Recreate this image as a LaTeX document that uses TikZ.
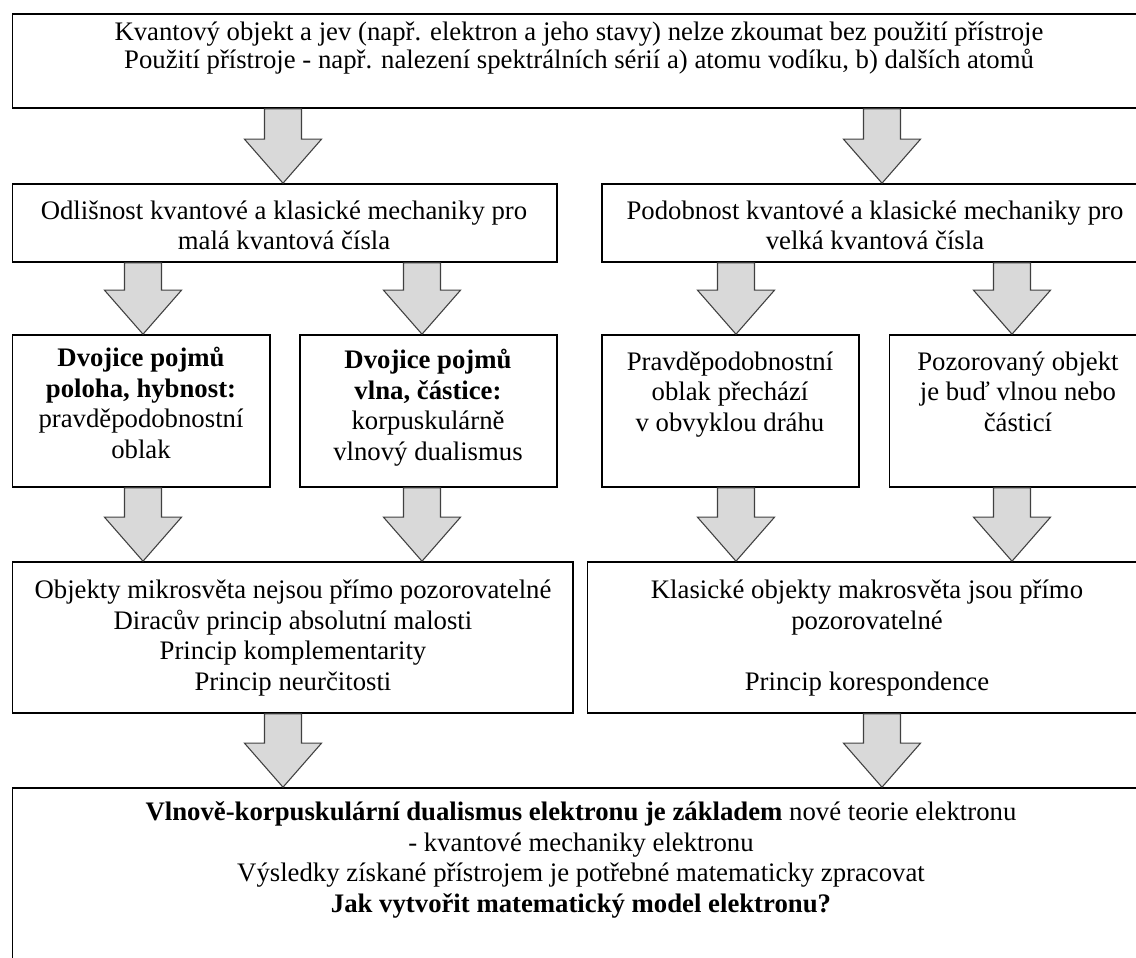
\documentclass[tikz,border=0pt]{standalone}
\usepackage{fontspec}
\setmainfont{Liberation Serif}
\usetikzlibrary{calc,fit}

\newcommand{\blokarrow}[3]{%
  \path (#1,0 |- #2.south) coordinate (bs) (#1,0 |- #3.north) coordinate (bt);
  \draw[barrow] ($(bs)+(-18.5,0)$) -- ($(bt)+(-18.5,-44)$) -- ($(bt)+(-38.5,-44)$) -- (bt)
    -- ($(bt)+(38.5,-44)$) -- ($(bt)+(18.5,-44)$) -- ($(bs)+(18.5,0)$) -- cycle;}

\begin{document}
\begin{tikzpicture}[x=0.46pt, y=-0.46pt,
  box/.style={draw=black, line width=0.75pt, inner sep=0pt},
  txt/.style={align=center, inner sep=0pt, anchor=base, font=\fontsize{12.3}{14}\selectfont},
  barrow/.style={draw=black!75, fill=black!15, line width=0.5pt, line join=miter}]
\useasboundingbox (0,0) rectangle (1136,958);
\clip (0,0) rectangle (1136,958);
\node[box, fit={(12.6,14) (1146,108)}] (kvant) {};
\node[box, fit={(12.6,184) (557,262)}] (odlis) {};
\node[box, fit={(602,184) (1146,262)}] (podob) {};
\node[box, fit={(12.6,335) (270,487)}] (dvojA) {};
\node[box, fit={(300,335) (557,487)}] (dvojB) {};
\node[box, fit={(602,335) (859,487)}] (pravd) {};
\node[box, fit={(889.5,335) (1146,487)}] (pozor) {};
\node[box, fit={(12.6,562) (573,713)}] (mikro) {};
\node[box, fit={(587.5,562) (1146,713)}] (makro) {};
\node[box, fit={(12.6,788) (1150,1000)}] (vlnov) {};
\node[txt, font=\fontsize{12.3}{13}\selectfont] (kvant-t) at (579,69) {Kvantový objekt a jev (např. elektron a jeho stavy) nelze zkoumat bez použití přístroje\\
  Použití přístroje - např. nalezení spektrálních sérií a) atomu vodíku, b) dalších atomů};
\node[txt] (odlis-t) at (284,250) {Odlišnost kvantové a klasické mechaniky pro\\malá kvantová čísla};
\node[txt] (podob-t) at (875,250) {Podobnost kvantové a klasické mechaniky pro\\velká kvantová čísla};
\node[txt] (dvojA-t) at (141,458) {\textbf{Dvojice pojmů}\\\textbf{poloha, hybnost:}\\pravděpodobnostní\\oblak};
\node[txt] (dvojB-t) at (428,460) {\textbf{Dvojice pojmů}\\\textbf{vlna, částice:}\\korpuskulárně\\vlnový dualismus};
\node[txt] (pravd-t) at (730,431) {Pravděpodobnostní\\oblak přechází\\v obvyklou dráhu};
\node[txt] (pozor-t) at (1018,431) {Pozorovaný objekt\\je buď vlnou nebo\\částicí};
\node[txt] (mikro-t) at (293,690) {Objekty mikrosvěta nejsou přímo pozorovatelné\\Diracův princip absolutní malosti\\Princip komplementarity\\Princip neurčitosti};
\node[txt] (makro-t) at (867,690) {Klasické objekty makrosvěta jsou přímo\\pozorovatelné\\[14pt]Princip korespondence};
\node[txt] (vlnov-t) at (581,912) {\textbf{Vlnově-korpuskulární dualismus elektronu je základem} nové teorie elektronu\\
  - kvantové mechaniky elektronu\\Výsledky získané přístrojem je potřebné matematicky zpracovat\\
  \textbf{Jak vytvořit matematický model elektronu?}};
\blokarrow{283}{kvant}{odlis}
\blokarrow{882}{kvant}{podob}
\blokarrow{143}{odlis}{dvojA}
\blokarrow{422}{odlis}{dvojB}
\blokarrow{736}{podob}{pravd}
\blokarrow{1012}{podob}{pozor}
\blokarrow{143}{dvojA}{mikro}
\blokarrow{422}{dvojB}{mikro}
\blokarrow{736}{pravd}{makro}
\blokarrow{1012}{pozor}{makro}
\blokarrow{283}{mikro}{vlnov}
\blokarrow{882}{makro}{vlnov}
\end{tikzpicture}
\end{document}
